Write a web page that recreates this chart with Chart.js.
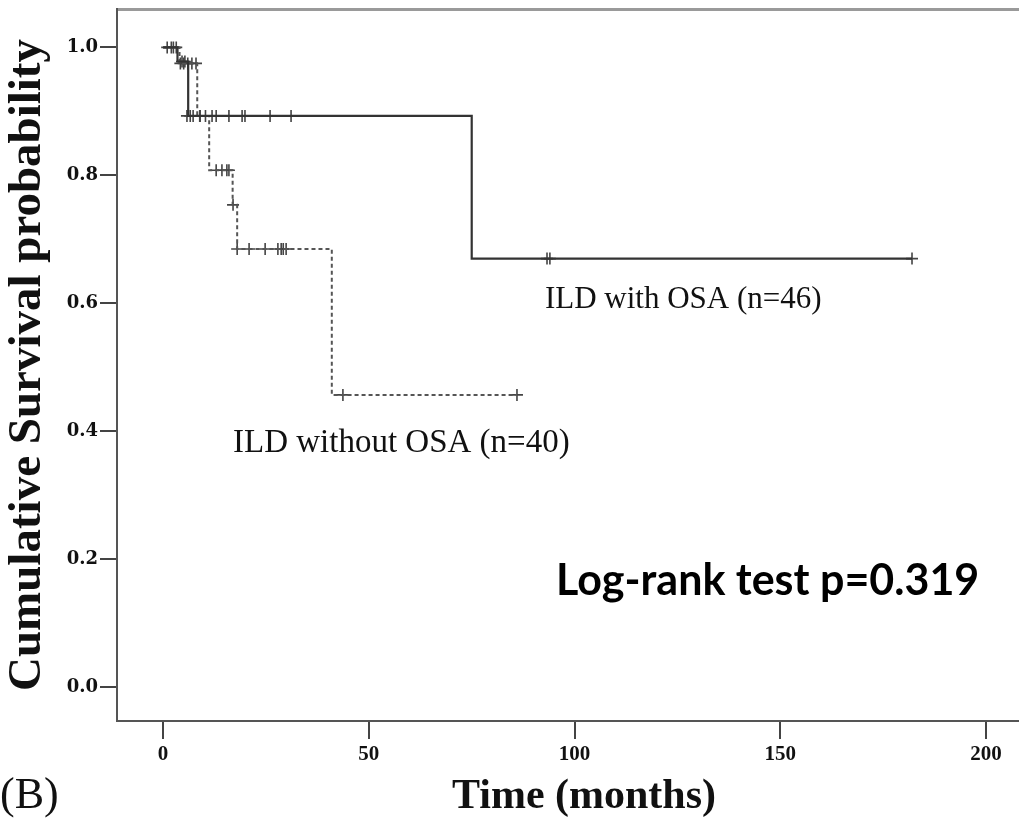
<!DOCTYPE html>
<html>
<head>
<meta charset="utf-8">
<script src="https://cdn.jsdelivr.net/npm/chart.js@4.4.1/dist/chart.umd.min.js"></script>
<style>
  html, body { margin: 0; padding: 0; background: #ffffff; }
  #wrap { width: 1019px; height: 826px; }
</style>
</head>
<body>
<div id="wrap"><canvas id="c" width="1019" height="826"></canvas></div>
<script>
// ---- Data (Kaplan-Meier step curves) ----
const withTimes = [0, 3.5, 6.1, 75, 182];
const withSurv  = [1.0, 0.978, 0.893, 0.670, 0.670];

const withoutTimes = [0, 4.0, 8.3, 11.2, 16.9, 18.0, 41.0, 86.0];
const withoutSurv  = [1.0, 0.975, 0.893, 0.808, 0.754, 0.685, 0.457, 0.457];

// censored observations (+ marks)
const withCensorTimes = [1.0, 2.0, 4.6, 5.3, 5.8, 6.6, 7.3, 9.0, 11.9, 12.9, 16.0, 19.2, 19.9, 26.0, 31.1, 93.3, 94.0, 182.0];
const withCensorSurv  = [1.0, 1.0, 0.978, 0.978, 0.893, 0.893, 0.893, 0.893, 0.893, 0.893, 0.893, 0.893, 0.893, 0.893, 0.893, 0.670, 0.670, 0.670];

const withoutCensorTimes = [2.5, 3.2, 4.2, 5.0, 6.0, 7.0, 8.0, 8.9, 10.3, 12.9, 14.3, 15.5, 16.0, 17.0, 18.0, 20.9, 24.8, 27.9, 28.7, 29.2, 29.9, 43.7, 86.0];
const withoutCensorSurv  = [1.0, 1.0, 0.975, 0.975, 0.975, 0.975, 0.975, 0.893, 0.893, 0.808, 0.808, 0.808, 0.808, 0.754, 0.685, 0.685, 0.685, 0.685, 0.685, 0.685, 0.685, 0.457, 0.457];

const xTickValues = [0, 50, 100, 150, 200];
const yTickValues = [0.0, 0.2, 0.4, 0.6, 0.8, 1.0];

const xTitle = 'Time (months)';
const yTitle = 'Cumulative Survival probability';
const labelWith = 'ILD with OSA (n=46)';
const labelWithout = 'ILD without OSA (n=40)';
const statText = 'Log-rank test p=0.319';
const panelText = '(B)';

const toPts = (xs, ys) => xs.map((x, i) => ({ x: x, y: ys[i] }));

const annotations = {
  id: 'annotations',
  afterDraw(chart) {
    const ctx = chart.ctx;
    const xs = chart.scales.x, ys = chart.scales.y;
    ctx.save();
    ctx.fillStyle = '#111';
    ctx.textAlign = 'left';
    ctx.textBaseline = 'alphabetic';
    ctx.font = '31px "Liberation Serif"';
    ctx.fillText(labelWith, xs.getPixelForValue(92.8), ys.getPixelForValue(0.593));
    ctx.font = '33px "Liberation Serif"';
    ctx.fillText(labelWithout, xs.getPixelForValue(17.0), ys.getPixelForValue(0.368));
    ctx.fillStyle = '#000';
    ctx.font = 'bold 43px Lato';
    ctx.fillText(statText, xs.getPixelForValue(95.5), ys.getPixelForValue(0.145));
    // x axis title
    ctx.fillStyle = '#111';
    ctx.textAlign = 'center';
    ctx.font = 'bold 42px "Liberation Serif"';
    ctx.fillText(xTitle, 584, 808);
    ctx.textAlign = 'left';
    ctx.font = '44px "Liberation Serif"';
    ctx.fillText(panelText, 0, 808);
    ctx.restore();
  }
};

const zeroPad = (s) => { s.paddingLeft = 0; s.paddingRight = 0; s.paddingTop = 0; s.paddingBottom = 0; };

new Chart(document.getElementById('c'), {
  type: 'line',
  data: {
    datasets: [
      {
        label: 'ILD with OSA',
        data: toPts(withTimes, withSurv),
        stepped: 'before',
        borderColor: '#333333',
        borderWidth: 2.2,
        pointRadius: 0,
        fill: false
      },
      {
        label: 'ILD without OSA',
        data: toPts(withoutTimes, withoutSurv),
        stepped: 'before',
        borderColor: '#555555',
        borderWidth: 2,
        borderDash: [4, 3],
        pointRadius: 0,
        fill: false
      },
      {
        type: 'scatter',
        label: 'censored (with OSA)',
        data: toPts(withCensorTimes, withCensorSurv),
        showLine: false,
        pointStyle: 'cross',
        pointRadius: 6,
        pointBorderWidth: 1.6,
        pointBorderColor: '#444444',
        borderColor: '#444444'
      },
      {
        type: 'scatter',
        label: 'censored (without OSA)',
        data: toPts(withoutCensorTimes, withoutCensorSurv),
        showLine: false,
        pointStyle: 'cross',
        pointRadius: 6,
        pointBorderWidth: 1.6,
        pointBorderColor: '#444444',
        borderColor: '#444444'
      }
    ]
  },
  options: {
    responsive: false,
    animation: false,
    events: [],
    layout: { padding: 0, autoPadding: false },
    plugins: { legend: { display: false }, tooltip: { enabled: false } },
    scales: {
      x: {
        type: 'linear',
        position: 'bottom',
        min: -11.2,
        max: 208,
        afterBuildTicks: (s) => { s.ticks = xTickValues.map(v => ({ value: v })); },
        afterFit: (s) => { s.height = 105; zeroPad(s); },
        ticks: {
          color: '#111',
          font: { family: '"Liberation Serif"', size: 21, weight: 'bold' },
          padding: 3,
          maxRotation: 0,
          callback: (v) => String(v)
        },
        grid: { drawOnChartArea: false, drawTicks: true, tickLength: 18, color: '#444', lineWidth: 2 },
        border: { display: true, color: '#555', width: 2 },
        title: { display: false, text: xTitle }
      },
      xTop: {
        type: 'linear',
        position: 'top',
        min: -11.2,
        max: 208,
        afterFit: (s) => { s.height = 9; zeroPad(s); },
        ticks: { display: false },
        grid: { display: false, drawTicks: false },
        border: { display: true, color: '#9a9a9a', width: 3 }
      },
      y: {
        type: 'linear',
        position: 'left',
        min: -0.0525,
        max: 1.060,
        afterBuildTicks: (s) => { s.ticks = yTickValues.map(v => ({ value: v })); },
        afterFit: (s) => { s.width = 117; zeroPad(s); },
        ticks: {
          color: '#111',
          font: { family: '"DejaVu Serif"', size: 18, weight: 'bold' },
          padding: 2,
          callback: (v) => Number(v).toFixed(1)
        },
        grid: { drawOnChartArea: false, drawTicks: true, tickLength: 17, color: '#444', lineWidth: 2 },
        border: { display: true, color: '#555', width: 2 },
        title: {
          display: true,
          text: yTitle,
          color: '#111',
          font: { family: '"Liberation Serif"', size: 47, weight: 'bold' },
          padding: { top: 0, bottom: 0 }
        }
      }
    }
  },
  plugins: [annotations]
});
</script>
</body>
</html>
